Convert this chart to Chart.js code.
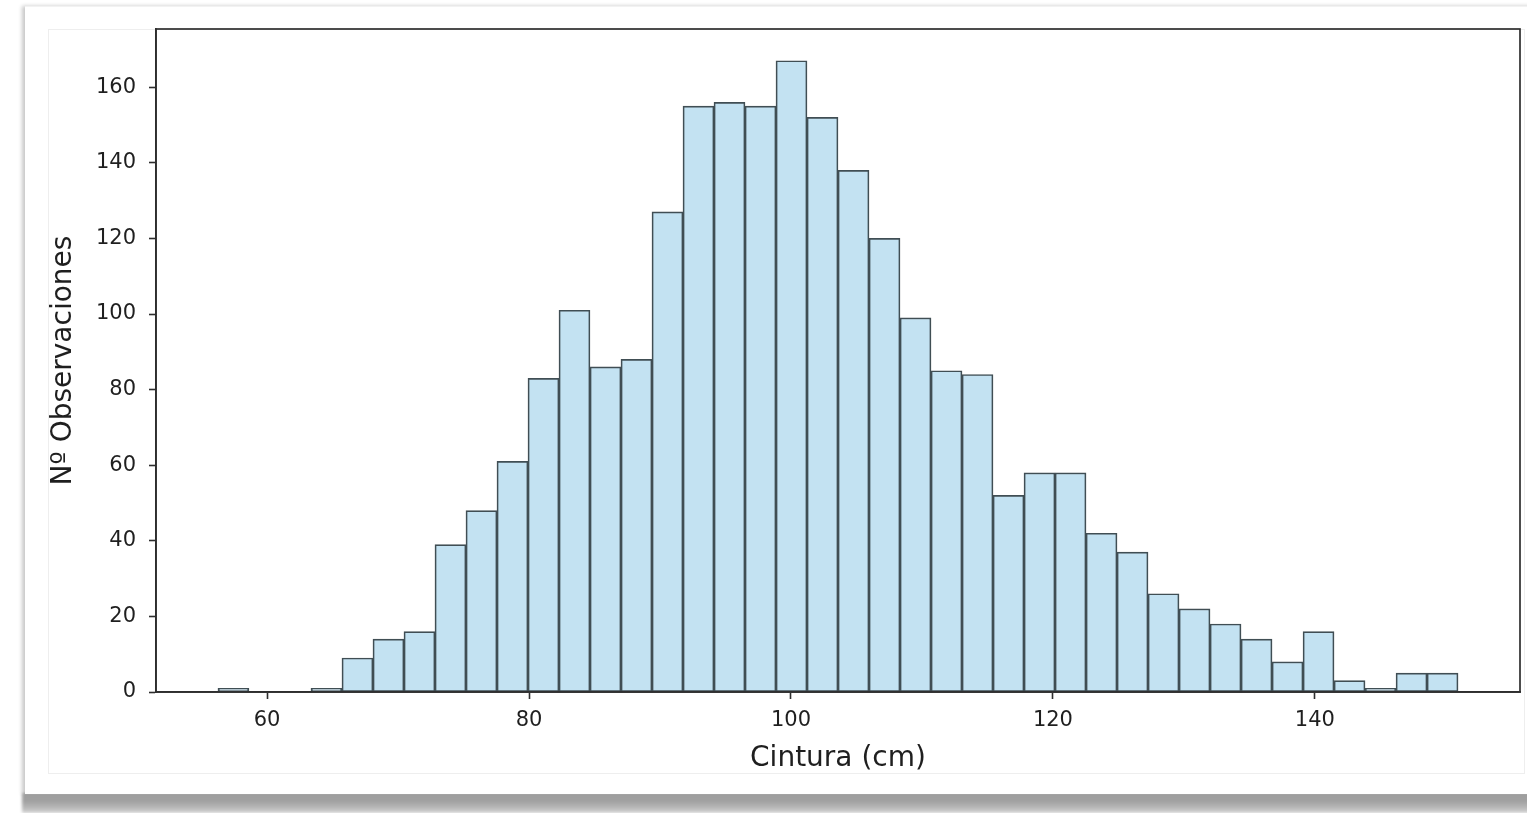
<!DOCTYPE html>
<html>
<head>
<meta charset="utf-8">
<script src="https://cdn.jsdelivr.net/npm/chart.js@4.4.1/dist/chart.umd.min.js"></script>
<style>
  html, body { margin: 0; padding: 0; background: #fff; }
  body { width: 1527px; height: 813px; position: relative; overflow: hidden; }
  .card {
    position: absolute; left: 25px; top: 6px; width: 1510px; height: 787px;
    background: #fff; border-top: 1px solid #f2f2f2;
    box-shadow: -3px 0 4px rgba(0,0,0,0.22);
  }
  .shade {
    position: absolute; left: 22px; top: 793px; width: 1510px; height: 20px;
    background: linear-gradient(to bottom, #a8a8a8 0%, #9d9d9d 35%, #b9b9b9 75%, #d4d4d4 100%);
    filter: blur(1.5px);
  }
  .inner {
    position: absolute; left: 48px; top: 29px; width: 1475px; height: 743px;
    border: 1px solid #eeeeee; background: #fff;
  }
  #chart { position: absolute; left: 0; top: 0; }
</style>
</head>
<body>
<div class="shade"></div>
<div class="card"></div>
<div class="inner"></div>
<canvas id="chart" width="1527" height="813"></canvas>
<script>
// histograma de cintura: 40 intervalos
const binStart = 56.25;
const binWidth = 2.367;
const counts = [1, 0, 0, 1, 9, 14, 16, 39, 48, 61,
                83, 101, 86, 88, 127, 155, 156, 155, 167, 152,
                138, 120, 99, 85, 84, 52, 58, 58, 42, 37,
                26, 22, 18, 14, 8, 16, 3, 1, 5, 5];
const xTicks = [60, 80, 100, 120, 140];
const yTicks = [0, 20, 40, 60, 80, 100, 120, 140, 160];
const xRange = [51.52, 155.66];
const yRange = [0, 175.4];

const bins = counts.map((c, i) => ({ x: binStart + (i + 0.5) * binWidth, y: c }));

const ink = '#1f1f1f';
const spine = '#2e2e2e';

// marco completo alrededor del área del gráfico
const frame = {
    id: 'frame',
    afterDraw(chart) {
        const { ctx, chartArea: a } = chart;
        ctx.save();
        ctx.strokeStyle = spine;
        ctx.lineWidth = 1.7;
        ctx.strokeRect(a.left, a.top, a.right - a.left, a.bottom - a.top);
        ctx.restore();
    }
};

new Chart(document.getElementById('chart'), {
    type: 'bar',
    data: {
        datasets: [{
            data: bins,
            backgroundColor: '#c3e2f2',
            borderColor: '#404e54',
            borderWidth: 1.7,
            borderSkipped: false,
            barPercentage: 1,
            categoryPercentage: 1
        }]
    },
    options: {
        responsive: false,
        animation: false,
        devicePixelRatio: 1,
        layout: { padding: { left: 47, top: 29, right: 7, bottom: 37 } },
        plugins: { legend: { display: false }, tooltip: { enabled: false } },
        scales: {
            x: {
                type: 'linear',
                offset: false,
                min: xRange[0],
                max: xRange[1],
                afterBuildTicks: s => { s.ticks = xTicks.map(v => ({ value: v })); },
                afterFit: s => { s.height = 84; },
                grid: { offset: false, drawOnChartArea: false, tickLength: 7, tickColor: spine, tickWidth: 1.6 },
                border: { color: spine, width: 1.7 },
                ticks: { color: ink, padding: 9, font: { family: 'DejaVu Sans', size: 21 }, maxRotation: 0 },
                title: { display: true, text: 'Cintura (cm)', color: ink, padding: 0,
                         font: { family: 'DejaVu Sans', size: 28 } }
            },
            y: {
                min: yRange[0],
                max: yRange[1],
                afterBuildTicks: s => { s.ticks = yTicks.map(v => ({ value: v })); },
                afterFit: s => { s.width = 109; },
                grid: { drawOnChartArea: false, tickLength: 7, tickColor: spine, tickWidth: 1.6 },
                border: { color: spine, width: 1.7 },
                ticks: { color: ink, padding: 13, font: { family: 'DejaVu Sans', size: 21 } },
                title: { display: true, text: 'Nº Observaciones', color: ink, padding: 0,
                         font: { family: 'DejaVu Sans', size: 28 } }
            }
        }
    },
    plugins: [frame]
});
</script>
</body>
</html>
